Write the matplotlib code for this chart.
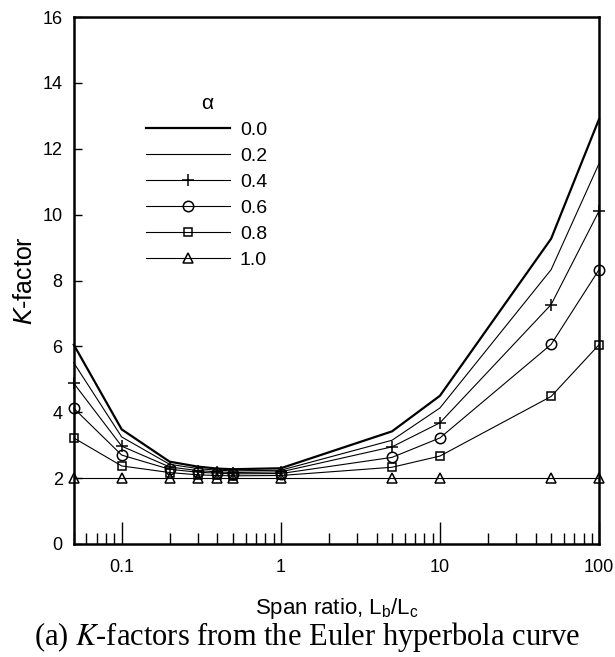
import matplotlib.pyplot as plt
from matplotlib.ticker import LogLocator, FixedLocator, NullFormatter

# span ratios Lb/Lc
span = [0.05, 0.1, 0.2, 0.3, 0.4, 0.5, 1, 5, 10, 50, 100]

alpha_labels = ['0.0', '0.2', '0.4', '0.6', '0.8', '1.0']

k_a00 = [6.05, 3.48, 2.50, 2.35, 2.29, 2.27, 2.30, 3.42, 4.50, 9.27, 12.90]
k_a02 = [5.50, 3.25, 2.42, 2.29, 2.24, 2.22, 2.24, 3.15, 4.13, 8.33, 11.55]
k_a04 = [4.88, 2.97, 2.34, 2.23, 2.19, 2.17, 2.19, 2.95, 3.68, 7.27, 10.11]
k_a06 = [4.12, 2.70, 2.27, 2.18, 2.15, 2.13, 2.14, 2.63, 3.22, 6.06, 8.33]
k_a08 = [3.22, 2.37, 2.17, 2.10, 2.08, 2.07, 2.08, 2.33, 2.67, 4.48, 6.05]
k_a10 = [2.0, 2.0, 2.0, 2.0, 2.0, 2.0, 2.0, 2.0, 2.0, 2.0, 2.0]

series = [k_a00, k_a02, k_a04, k_a06, k_a08, k_a10]
markers = [None, None, '+', 'o', 's', '^']
msizes = [0, 0, 8, 7.5, 6, 7]
widths = [1.6, 0.8, 0.8, 0.8, 0.8, 0.8]

plt.rcParams['font.family'] = ['Liberation Sans', 'DejaVu Sans']

fig = plt.figure(figsize=(6.15, 6.57), dpi=100)
ax = fig.add_axes([0.120, 0.172, 0.854, 0.802])

for ys, lab, m, ms, lw in zip(series, alpha_labels, markers, msizes, widths):
    ax.plot(span, ys, color='black', lw=lw, marker=m, markersize=ms,
            markerfacecolor='none', markeredgecolor='black', markeredgewidth=1.1,
            label=lab, clip_on=False, zorder=3)

ax.set_xscale('log')
ax.set_xlim(0.05, 100)
ax.set_ylim(0, 16)
ax.set_yticks([0, 2, 4, 6, 8, 10, 12, 14, 16])
ax.xaxis.set_major_locator(FixedLocator([0.1, 1, 10, 100]))
ax.set_xticklabels(['0.1', '1', '10', '100'])
ax.xaxis.set_minor_locator(LogLocator(base=10, subs=range(2, 10)))
ax.xaxis.set_minor_formatter(NullFormatter())

ax.tick_params(axis='x', which='major', direction='in', length=16, width=1, labelsize=13, pad=11)
ax.tick_params(axis='x', which='minor', direction='in', length=8, width=1)
ax.tick_params(axis='y', which='major', direction='in', length=6, width=1, labelsize=13, pad=8)
for s in ax.spines.values():
    s.set_linewidth(1.8)

ax.set_xlabel('Span ratio, L$_\\mathregular{b}$/L$_\\mathregular{c}$', fontsize=16, labelpad=14)
ax.set_ylabel('$\\mathit{K}$-factor', fontsize=18, labelpad=4)

leg = ax.legend(title='α', loc='upper left', bbox_to_anchor=(0.105, 0.887), frameon=False,
                fontsize=14, title_fontsize=15, handlelength=4.3, handletextpad=0.5,
                labelspacing=0.43)

fig.text(0.5, 0.030, '(a) $\\mathit{K}$-factors from the Euler hyperbola curve',
         ha='center', va='center', fontsize=22, family='Liberation Serif',
         math_fontfamily='stix')

fig.savefig('out.png', dpi=100)
